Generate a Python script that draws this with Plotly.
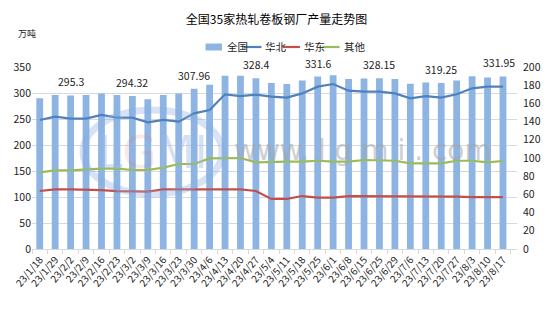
import plotly.graph_objects as go

categories = ["23/1/18", "23/1/29", "23/2/2", "23/2/9", "23/2/16", "23/2/23", "23/3/2", "23/3/9",
              "23/3/16", "23/3/23", "23/3/30", "23/4/6", "23/4/13", "23/4/20", "23/4/27", "23/5/4",
              "23/5/11", "23/5/18", "23/5/25", "23/6/1", "23/6/8", "23/6/15", "23/6/25", "23/6/29",
              "23/7/6", "23/7/13", "23/7/20", "23/7/27", "23/8/3", "23/8/10", "23/8/17"]

national = [290, 296, 295.3, 296, 299, 296, 294.32, 288, 296, 299, 307.96, 316, 333, 333, 328.4, 319,
            317.5, 324, 331.6, 334, 327, 328, 328.15, 327, 318, 320, 319.25, 324, 332, 330, 331.95]

north = [141.8, 145.4, 143.2, 143.2, 147.3, 144.3, 144.3, 139.2, 141.8, 139.9, 149, 152.7, 170, 168,
         169.6, 167.4, 166.3, 171, 178.4, 181.3, 174, 173, 173, 171, 165.6, 168, 166.3, 170, 176.6,
         178.4, 178.4]

east = [63.7, 65.6, 65.6, 65.6, 64.8, 63.7, 63, 63, 65.6, 65.6, 65.6, 65.6, 65.6, 65.6, 63.7, 55,
        55, 58.2, 56.4, 56.4, 58.2, 58.2, 58.2, 57.5, 57.5, 57.5, 57.5, 57.5, 57, 57, 57]

other = [84.3, 86.5, 86.5, 87.6, 88.3, 88.3, 86.8, 86.8, 89.4, 93.4, 93.4, 99.6, 100, 100, 95.2, 96,
         96, 96, 97, 96, 96, 97.8, 97.8, 97, 94.2, 94.2, 94.2, 97, 97, 95.2, 96.7]

series_names = ["全国", "华北", "华东", "其他"]
series_colors = ["#8DB4E2", "#4F81BD", "#C0504D", "#9BBB59"]

label_every = 4
first_label = 2  # index of first labelled bar

FONT = "Noto Sans CJK SC, Liberation Sans, sans-serif"

fig = go.Figure()
fig.add_trace(go.Bar(
    x=categories, y=national, name=series_names[0],
    marker=dict(color=series_colors[0], line=dict(width=0)),
    yaxis="y", showlegend=False,
))
for name, vals, col in zip(series_names[1:], [north, east, other], series_colors[1:]):
    fig.add_trace(go.Scatter(x=categories, y=vals, name=name, mode="lines",
                             line=dict(color=col, width=2.2), yaxis="y2", showlegend=False))

# plot-area pixel geometry for placing decorations
L, R, T, B = 25, 528, 67, 249
def px(xp):
    return (xp - L) / (R - L)
def py(yp):
    return (B - yp) / (B - T)

shapes = []
annotations = []

# data labels on every 4th bar
label_idx = [i for i in range(len(national)) if i >= first_label and (i - first_label) % label_every == 0]
for i in label_idx:
    annotations.append(dict(x=categories[i], y=national[i], xref="x", yref="y",
                            text=f"{national[i]:g}", showarrow=False,
                            xanchor="center", yanchor="bottom", yshift=4,
                            xshift=-4 if i == len(national) - 1 else 0,
                            font=dict(size=10.5, color="#222222")))

# manual legend (compact, Excel-like)
leg_y = 47
leg_x = [205, 245, 285, 326]
for i, (name, col) in enumerate(zip(series_names, series_colors)):
    x0 = leg_x[i]
    if i == 0:
        shapes.append(dict(type="rect", xref="paper", yref="paper",
                           x0=px(x0), x1=px(x0 + 17), y0=py(leg_y + 3.5), y1=py(leg_y - 3.5),
                           fillcolor=col, line=dict(width=0)))
    else:
        shapes.append(dict(type="line", xref="paper", yref="paper",
                           x0=px(x0), x1=px(x0 + 18), y0=py(leg_y), y1=py(leg_y),
                           line=dict(color=col, width=2.2)))
    annotations.append(dict(text=name, xref="paper", yref="paper", x=px(x0 + 20), y=py(leg_y),
                            xanchor="left", yanchor="middle", showarrow=False,
                            font=dict(size=10.5, color="#222222")))

# watermark logo
shapes.append(dict(type="circle", xref="paper", yref="paper", layer="above",
                   x0=px(78), x1=px(222), y0=py(194), y1=py(110),
                   line=dict(color="rgba(140,175,225,0.35)", width=7)))
annotations.append(dict(text="L<span style='color:rgba(230,130,130,0.45)'>G</span>MI",
                        xref="paper", yref="paper", x=px(150), y=py(152),
                        xanchor="center", yanchor="middle", showarrow=False,
                        font=dict(size=44, color="rgba(160,185,230,0.45)", family="DejaVu Sans")))
annotations.append(dict(text="www. l g m i . com", xref="paper", yref="paper", x=px(368), y=py(150),
                        xanchor="center", yanchor="middle", showarrow=False,
                        font=dict(size=28, color="rgba(165,165,165,0.55)", family="DejaVu Sans")))
annotations.append(dict(text="万吨", xref="paper", yref="paper", x=px(8), y=py(34), xanchor="left",
                        yanchor="middle", showarrow=False, font=dict(size=9, color="#222222")))

fig.update_layout(
    width=553, height=327,
    margin=dict(l=L, r=553 - R, t=T, b=327 - B),
    paper_bgcolor="white", plot_bgcolor="white",
    font=dict(family=FONT, size=10, color="#222222"),
    bargap=0.56,
    showlegend=False,
    title=dict(text="全国35家热轧卷板钢厂产量走势图", x=0.5, xanchor="center",
               y=0.94, yanchor="middle", font=dict(size=12, color="#000000", family=FONT)),
    xaxis=dict(type="category", tickangle=-50, tickfont=dict(size=10, color="#222222"),
               showline=True, linecolor="#D9D9D9", linewidth=1,
               ticks="outside", ticklen=4, tickcolor="#D9D9D9", tickson="boundaries",
               showgrid=False),
    yaxis=dict(range=[0, 350], dtick=50, showgrid=True, gridcolor="#D9D9D9", gridwidth=1,
               zeroline=False, tickfont=dict(size=10.5, color="#222222"), ticks="", showline=False),
    yaxis2=dict(range=[0, 200], dtick=20, overlaying="y", side="right", showgrid=False,
                zeroline=False, tickfont=dict(size=10.5, color="#222222"), ticks="",
                ticklabelstandoff=5),
    shapes=shapes,
    annotations=annotations,
)

fig.write_html("out.html")
